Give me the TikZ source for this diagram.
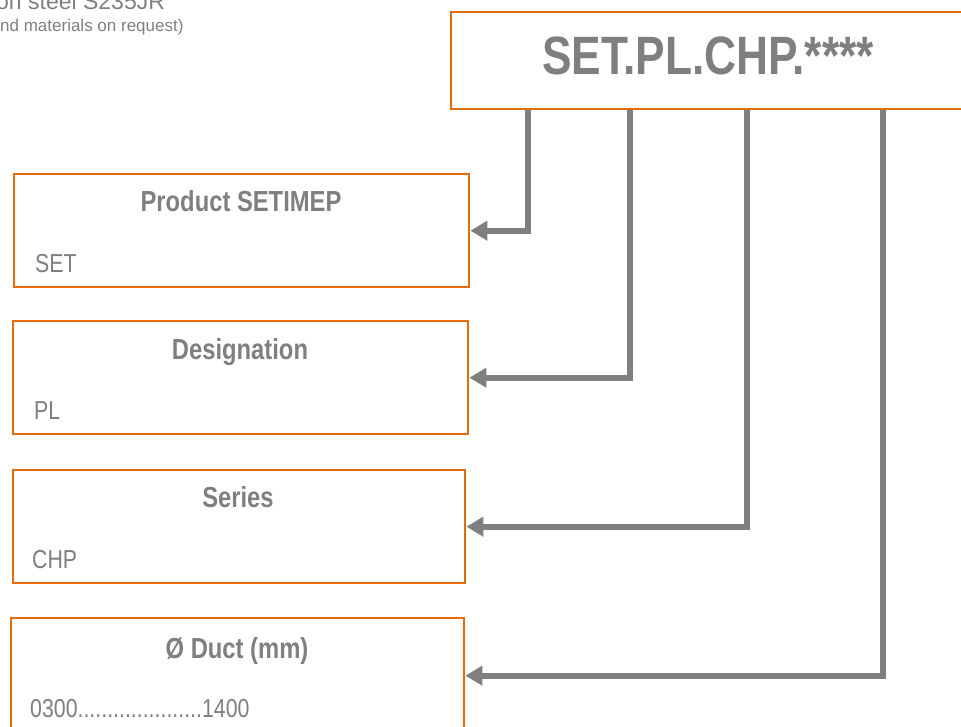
\documentclass[tikz,border=0pt]{standalone}
\usepackage{fontspec}
\setmainfont{Liberation Sans}
\newfontfamily\narrow{Liberation Sans}[FakeStretch=0.82]
\usetikzlibrary{arrows.meta}
\definecolor{org}{HTML}{E46C0A}
\definecolor{gry}{HTML}{7F7F7F}
\begin{document}
\begin{tikzpicture}[x=1pt,y=-1pt,
  box/.style={draw=org, line width=2.4pt, minimum height=113pt, anchor=north west, inner sep=0pt},
  ttl/.style={text=gry, font=\narrow\bfseries\fontsize{29}{34}\selectfont, anchor=base, inner sep=0pt},
  sub/.style={text=gry, font=\narrow\fontsize{26}{30}\selectfont, anchor=base west, inner sep=0pt},
  conn/.style={draw=gry, line width=6pt, -{Triangle[length=17pt,width=19pt]}}]
\useasboundingbox (0,0) rectangle (961,726);
\clip (0,0) rectangle (961,726);
% top-left cut text
\node[anchor=base west, inner sep=0pt, text=gry, font=\fontsize{23}{26}\selectfont] (note1) at (-4,9) {on steel S235JR};
\node[anchor=base west, inner sep=0pt, text=gry, font=\fontsize{17}{20}\selectfont] (note2) at (0,31) {nd materials on request)};
% code box
\node[draw=org, line width=2.4pt, minimum width=540pt, minimum height=97pt, anchor=north west, inner sep=0pt] (top) at (450,11) {};
\node[text=gry, font=\narrow\bfseries\fontsize{54}{62}\selectfont, anchor=base, inner sep=0pt] (code) at (708,74) {SET.PL.CHP.****};
% boxes
\node[box, minimum width=455pt] (prod) at (13,173) {};
\node[ttl] (prodt) at (241,211) {Product SETIMEP};
\node[sub] (prods) at (35,272) {SET};
\node[box, minimum width=455pt] (desg) at (12,320) {};
\node[ttl] (desgt) at (240,359) {Designation};
\node[sub] (desgs) at (34,419) {PL};
\node[box, minimum width=452pt] (ser) at (12,469) {};
\node[ttl] (sert) at (238,507) {Series};
\node[sub] (sers) at (32,568) {CHP};
\node[box, minimum width=453pt, minimum height=115pt] (duct) at (10,617) {};
\node[ttl] (ductt) at (237,658) {Ø Duct (mm)};
\node[sub] (ducts) at (30,717) {0300.....................1400};
% connectors
\coordinate (c1) at (528,0);
\coordinate (c2) at (630,0);
\coordinate (c3) at (747,0);
\coordinate (c4) at (883,0);
\draw[conn] (top.south -| c1) |- (prod.east);
\draw[conn] (top.south -| c2) |- (desg.east);
\draw[conn] (top.south -| c3) |- (ser.east);
\draw[conn] (top.south -| c4) |- (duct.east);
\end{tikzpicture}
\end{document}
